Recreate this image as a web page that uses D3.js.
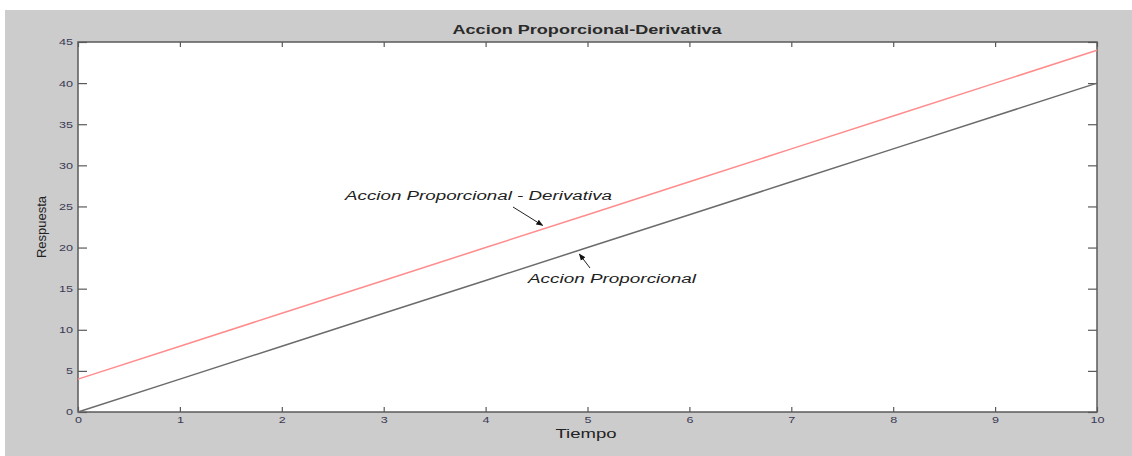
<!DOCTYPE html>
<html>
<head>
<meta charset="utf-8">
<script src="https://cdn.jsdelivr.net/npm/d3@7"></script>
<style>
  body { margin: 0; background: #fff; }
  svg { display: block; font-family: "Liberation Sans", Arial, sans-serif; }
</style>
</head>
<body>
<svg id="canvas" width="1132" height="456"></svg>
<script>
// values
let tiempo = [0, 1, 2, 3, 4, 5, 6, 7, 8, 9, 10]
let accionP = [0, 4, 8, 12, 16, 20, 24, 28, 32, 36, 40]
let accionPD = [4, 8, 12, 16, 20, 24, 28, 32, 36, 40, 44]
let xTicks = [0, 1, 2, 3, 4, 5, 6, 7, 8, 9, 10]
let yTicks = [0, 5, 10, 15, 20, 25, 30, 35, 40, 45]
let notaTextos = ['Accion Proporcional - Derivativa', 'Accion Proporcional']
let notaPuntas = [[4.56, 22.2], [4.92, 19.7]]

let canvas = d3.select('#canvas')

let plotLeft = 78, plotRight = 1097, plotTop = 42, plotBottom = 412

let xScale = d3.scaleLinear().domain([0, 10]).range([plotLeft, plotRight])
let yScale = d3.scaleLinear().domain([0, 45]).range([plotBottom, plotTop])

// gray figure background
canvas.append('rect')
      .attr('x', 5).attr('y', 10)
      .attr('width', 1127).attr('height', 446)
      .attr('fill', '#cccccc')

canvas.append('rect')
      .attr('x', plotLeft).attr('y', plotTop)
      .attr('width', plotRight - plotLeft).attr('height', plotBottom - plotTop)
      .attr('fill', '#ffffff')

let axisColor = '#5a5a5a'

let styleAxis = (g) => {
    g.select('.domain').remove()
    g.selectAll('line').attr('stroke', axisColor).attr('stroke-width', 1.2)
    g.selectAll('text').attr('fill', '#3a3a55').attr('font-size', 9)
}

canvas.append('g')
      .attr('transform', 'translate(0,' + plotBottom + ')')
      .call(d3.axisBottom(xScale).tickValues(xTicks).tickSize(-5).tickPadding(5).tickFormat(d3.format('d')))
      .call(styleAxis)

canvas.append('g')
      .attr('transform', 'translate(0,' + plotTop + ')')
      .call(d3.axisTop(xScale).tickValues(xTicks).tickSize(-5).tickFormat(''))
      .call(styleAxis)

canvas.append('g')
      .attr('transform', 'translate(' + plotLeft + ',0)')
      .call(d3.axisLeft(yScale).tickValues(yTicks).tickSize(-9).tickPadding(5).tickFormat(d3.format('d')))
      .call(styleAxis)

canvas.append('g')
      .attr('transform', 'translate(' + plotRight + ',0)')
      .call(d3.axisRight(yScale).tickValues(yTicks).tickSize(-9).tickFormat(''))
      .call(styleAxis)

// stretch tick labels a bit like the original
canvas.selectAll('.tick text').each(function () {
    let t = d3.select(this)
    let n = t.text().length
    if (n > 0) t.attr('textLength', n * 7).attr('lengthAdjust', 'spacingAndGlyphs')
})

canvas.append('rect')
      .attr('x', plotLeft).attr('y', plotTop)
      .attr('width', plotRight - plotLeft).attr('height', plotBottom - plotTop)
      .attr('fill', 'none')
      .attr('stroke', axisColor)
      .attr('stroke-width', 1.5)

let line = (serie) => d3.line()
    .x((d, i) => xScale(tiempo[i]))
    .y((d) => yScale(d))(serie)

canvas.append('path')
      .attr('d', line(accionP))
      .attr('fill', 'none')
      .attr('stroke', '#6b6b6b')
      .attr('stroke-width', 1.5)

canvas.append('path')
      .attr('d', line(accionPD))
      .attr('fill', 'none')
      .attr('stroke', '#ff8c8c')
      .attr('stroke-width', 1.5)

// title and labels
canvas.append('text')
      .text('Accion Proporcional-Derivativa')
      .attr('x', 587).attr('y', 34)
      .attr('text-anchor', 'middle')
      .attr('font-size', 12)
      .attr('font-weight', 'bold')
      .attr('fill', '#2a2a2a')
      .attr('textLength', 269).attr('lengthAdjust', 'spacingAndGlyphs')

canvas.append('text')
      .text('Tiempo')
      .attr('x', 586).attr('y', 438)
      .attr('text-anchor', 'middle')
      .attr('font-size', 13)
      .attr('fill', '#222')
      .attr('textLength', 61).attr('lengthAdjust', 'spacingAndGlyphs')

canvas.append('text')
      .text('Respuesta')
      .attr('transform', 'translate(46,227) rotate(-90)')
      .attr('text-anchor', 'middle')
      .attr('font-size', 12)
      .attr('fill', '#222')
      .attr('textLength', 62).attr('lengthAdjust', 'spacingAndGlyphs')

// annotations with arrows
canvas.append('defs').append('marker')
      .attr('id', 'flecha')
      .attr('viewBox', '0 0 10 10')
      .attr('refX', 9).attr('refY', 5)
      .attr('markerWidth', 7).attr('markerHeight', 7)
      .attr('orient', 'auto')
      .append('path')
      .attr('d', 'M0,1 L10,5 L0,9 z')
      .attr('fill', '#111')

let notaTexto = [[345, 200, 267], [528, 283, 168]]
let notaCola = [[513, 207], [590, 268]]

notaTextos.forEach((texto, i) => {
    canvas.append('text')
          .text(texto)
          .attr('x', notaTexto[i][0]).attr('y', notaTexto[i][1])
          .attr('font-size', 12)
          .attr('font-style', 'italic')
          .attr('fill', '#222')
          .attr('textLength', notaTexto[i][2]).attr('lengthAdjust', 'spacingAndGlyphs')

    canvas.append('line')
          .attr('x1', notaCola[i][0]).attr('y1', notaCola[i][1])
          .attr('x2', xScale(notaPuntas[i][0])).attr('y2', yScale(notaPuntas[i][1]) + (i === 0 ? -4 : 4))
          .attr('stroke', '#222')
          .attr('stroke-width', 1)
          .attr('marker-end', 'url(#flecha)')
})
</script>
</body>
</html>
